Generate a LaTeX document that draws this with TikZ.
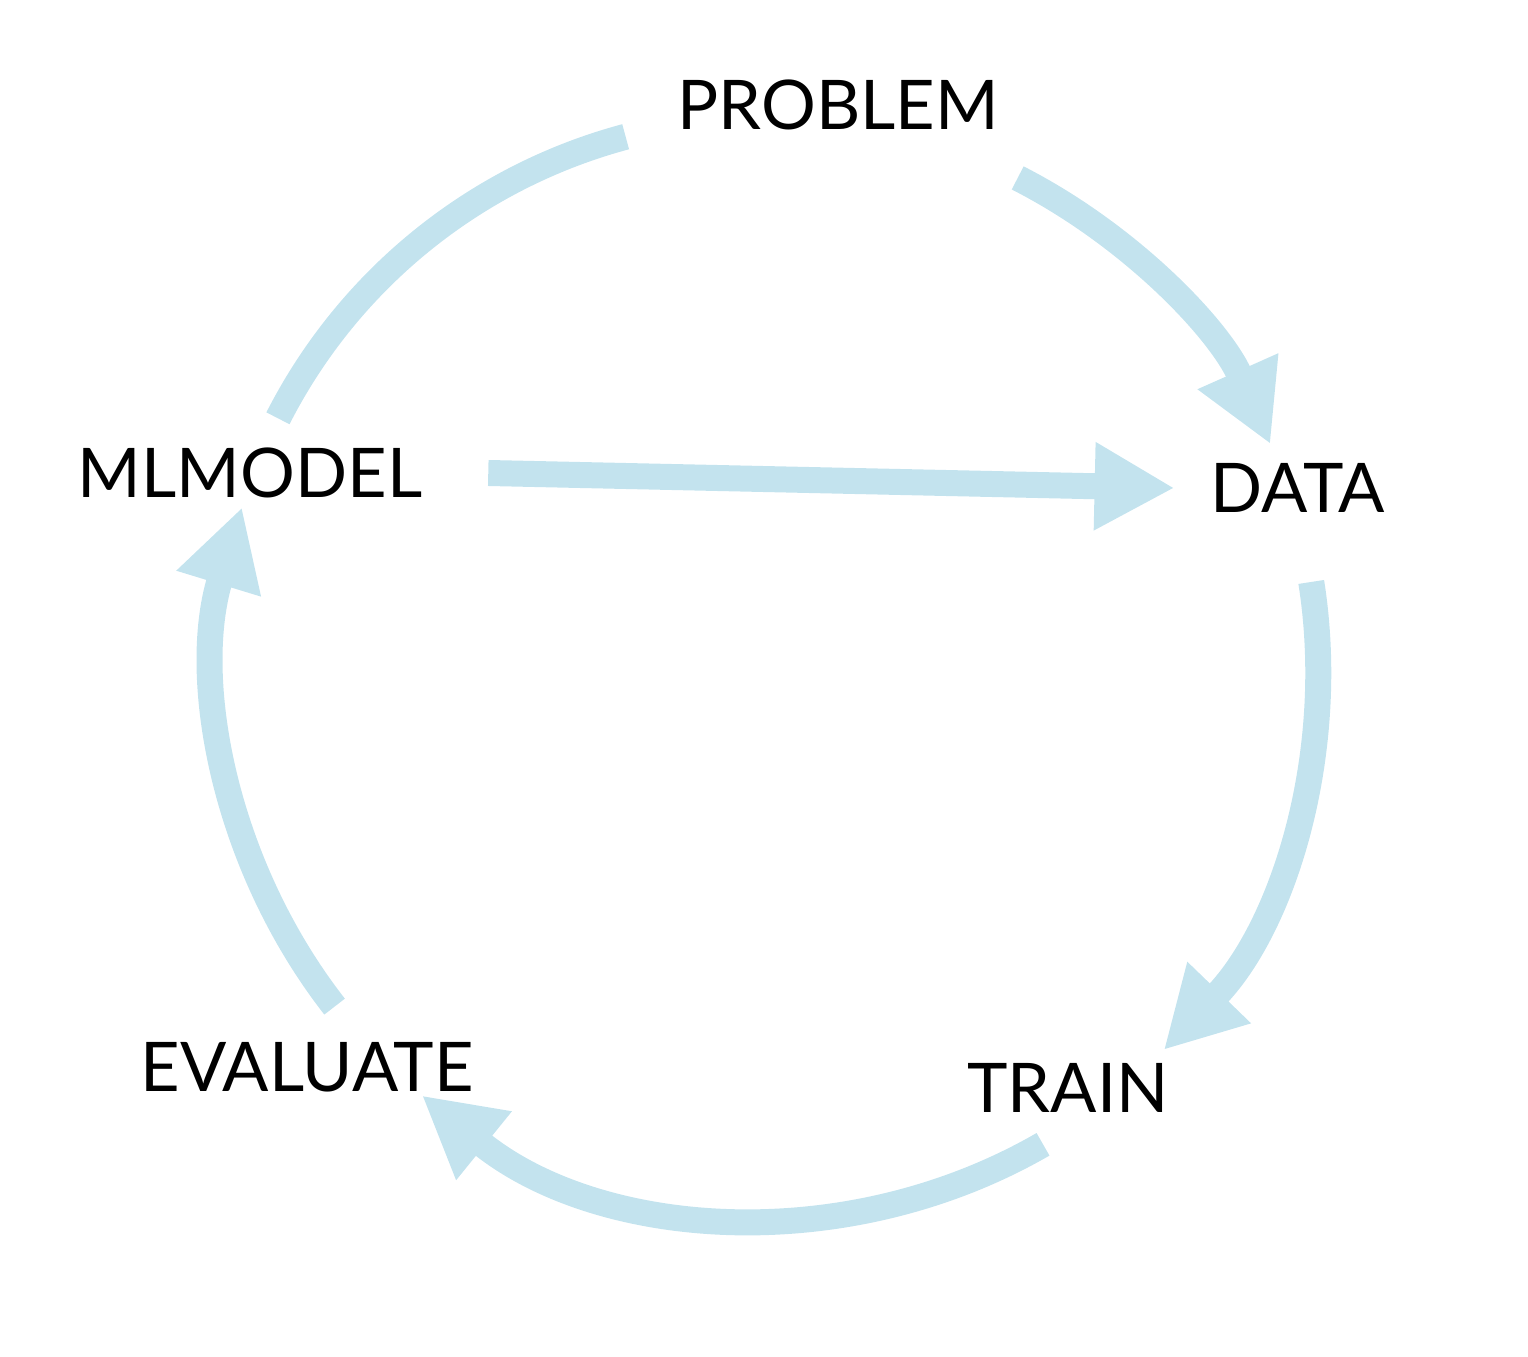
\documentclass[tikz,border=0pt]{standalone}
\usepackage{fontspec}
\setmainfont{Lato}
\usetikzlibrary{arrows.meta}
\definecolor{cyc}{HTML}{C3E3EE}
\tikzset{cycl/.style={draw=cyc,line width=0.52cm},
  tipped/.style={cycl,-{Triangle[width=1.65cm,length=1.6cm]}},
  lbl/.style={font=\fontsize{39}{44}\selectfont,text=black}}
\begin{document}
\begin{tikzpicture}[x=0.02cm,y=0.02cm]
\useasboundingbox (0,0) rectangle (1528,1356);
\coordinate (c) at (768,688);
\node[lbl] (problem) at (838,1251) {PROBLEM};
\node[lbl] (mlmodel) at (250,883) {MLMODEL};
\node[lbl] (data) at (1298,868) {DATA};
\node[lbl] (evaluate) at (307,289) {EVALUATE};
\node[lbl] (train) at (1068,268) {TRAIN};
\draw[cycl] (c) ++(105:550) arc[start angle=105,end angle=153,radius=550];
\draw[tipped] (c) ++(63:550) arc[start angle=63,end angle=24,radius=550];
\draw[tipped] (c) ++(9:550) arc[start angle=9,end angle=-44,radius=550];
\draw[tipped] (c) ++(-60:550) arc[start angle=-60,end angle=-129,radius=550];
\draw[tipped] (c) ++(218:550) arc[start angle=218,end angle=163,radius=550];
\draw[tipped] ([xshift=1.2cm]mlmodel.east) -- ([xshift=-0.6cm]data.west);
\end{tikzpicture}
\end{document}
